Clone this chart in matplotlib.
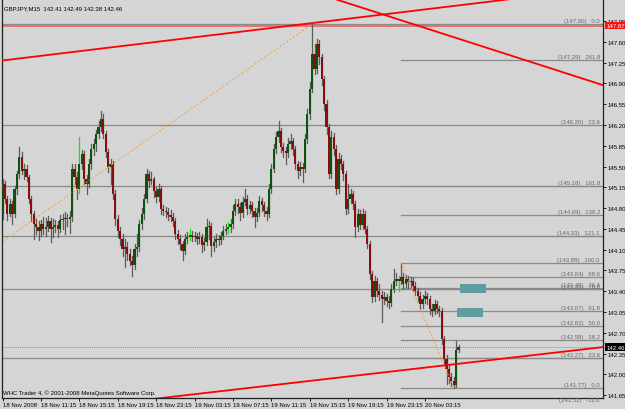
import matplotlib
matplotlib.use("Agg")
import matplotlib.pyplot as plt
from matplotlib.patches import Rectangle
import numpy as np

# GBPJPY M15 candles (bar index 0 = 18 Nov 07:15)
opens = [144.70, 145.21, 144.95, 144.70, 144.87, 144.70, 145.12, 145.37, 145.66, 145.42,
         145.46, 145.32, 144.95, 144.70, 144.53, 144.48, 144.41, 144.53, 144.45, 144.48,
         144.58, 144.45, 144.48, 144.52, 144.45, 144.60, 144.62, 144.63, 144.62, 144.65,
         145.46, 145.32, 145.12, 145.54, 145.71, 145.29, 145.21, 145.54, 145.80, 145.88,
         146.05, 146.17, 146.30, 146.05, 145.74, 145.49, 145.54, 145.04, 144.62, 144.41,
         144.28, 144.11, 144.15, 144.03, 143.91, 143.84, 144.11, 144.15, 144.53, 144.70,
         144.95, 145.37, 145.26, 145.29, 145.09, 144.99, 145.12, 144.79, 144.75, 144.73,
         144.68, 144.65, 144.58, 144.36, 144.28, 144.20, 144.08, 144.28, 144.31, 144.35,
         144.31, 144.33, 144.28, 144.31, 144.18, 144.23, 144.48, 144.50, 144.16, 144.23,
         144.28, 144.26, 144.33, 144.41, 144.45, 144.48, 144.53, 144.75, 144.87, 144.82,
         144.72, 144.90, 144.95, 144.79, 144.85, 144.75, 144.65, 144.72, 144.92, 144.85,
         144.75, 144.70, 145.12, 145.46, 145.80, 146.00, 146.10, 145.83, 145.76, 145.73,
         145.88, 145.93, 145.80, 145.54, 145.42, 145.49, 145.46, 145.96, 146.38, 146.81,
         147.39, 147.14, 147.56, 147.34, 146.97, 146.55, 146.17, 145.37, 146.00, 145.80,
         145.12, 145.63, 145.54, 145.37, 144.79, 144.95, 145.04, 144.87, 144.48, 144.70,
         144.52, 144.70, 144.45, 144.20, 143.69, 143.30, 143.57, 143.40, 143.34, 143.27,
         143.30, 143.24, 143.20, 143.44, 143.57, 143.61, 143.57, 143.64, 143.52, 143.61,
         143.56, 143.57, 143.49, 143.40, 143.32, 143.19, 143.27, 143.32, 143.27, 143.10,
         143.07, 143.19, 143.10, 143.07, 142.60, 142.26, 142.09, 141.96, 141.89, 141.82,
         142.41]
closes = [145.21, 144.95, 144.70, 144.87, 144.70, 145.12, 145.37, 145.66, 145.42, 145.46,
          145.32, 144.95, 144.70, 144.53, 144.48, 144.41, 144.53, 144.45, 144.48, 144.58,
          144.45, 144.48, 144.52, 144.45, 144.60, 144.62, 144.63, 144.62, 144.65, 145.46,
          145.32, 145.12, 145.54, 145.71, 145.29, 145.21, 145.54, 145.80, 145.88, 146.05,
          146.17, 146.30, 146.05, 145.74, 145.49, 145.54, 145.04, 144.62, 144.41, 144.28,
          144.11, 144.15, 144.03, 143.91, 143.84, 144.11, 144.15, 144.53, 144.70, 144.95,
          145.37, 145.26, 145.29, 145.09, 144.99, 145.12, 144.79, 144.75, 144.73, 144.68,
          144.65, 144.58, 144.36, 144.28, 144.20, 144.08, 144.28, 144.31, 144.35, 144.31,
          144.33, 144.28, 144.31, 144.18, 144.23, 144.48, 144.50, 144.16, 144.23, 144.28,
          144.26, 144.33, 144.41, 144.45, 144.48, 144.53, 144.75, 144.87, 144.82, 144.72,
          144.90, 144.95, 144.79, 144.85, 144.75, 144.65, 144.72, 144.92, 144.85, 144.75,
          144.70, 145.12, 145.46, 145.80, 146.00, 146.10, 145.83, 145.76, 145.73, 145.88,
          145.93, 145.80, 145.54, 145.42, 145.49, 145.46, 145.96, 146.38, 146.81, 147.39,
          147.14, 147.56, 147.34, 146.97, 146.55, 146.17, 145.37, 146.00, 145.80, 145.12,
          145.63, 145.54, 145.37, 144.79, 144.95, 145.04, 144.87, 144.48, 144.70, 144.52,
          144.70, 144.45, 144.20, 143.69, 143.30, 143.57, 143.40, 143.34, 143.27, 143.30,
          143.24, 143.20, 143.44, 143.57, 143.61, 143.57, 143.64, 143.52, 143.61, 143.56,
          143.57, 143.49, 143.40, 143.32, 143.19, 143.27, 143.32, 143.27, 143.10, 143.07,
          143.19, 143.10, 143.07, 142.60, 142.26, 142.09, 141.96, 141.89, 141.82, 142.41,
          142.46]
highs = [145.29, 145.26, 145.00, 144.95, 144.92, 145.18, 145.42, 145.83, 145.74, 145.55,
         145.52, 145.36, 145.00, 144.75, 144.62, 144.58, 144.60, 144.65, 144.63, 144.67,
         144.63, 144.62, 144.60, 144.58, 144.68, 144.70, 144.73, 144.70, 144.75, 145.55,
         145.55, 145.40, 146.00, 145.78, 145.76, 145.35, 145.63, 145.88, 145.96, 146.12,
         146.27, 146.43, 146.38, 146.10, 145.80, 145.63, 145.60, 145.10, 144.68, 144.48,
         144.36, 144.28, 144.23, 144.11, 144.00, 144.20, 144.36, 144.60, 144.80, 145.04,
         145.46, 145.42, 145.41, 145.32, 145.15, 145.20, 145.18, 144.85, 144.82, 144.80,
         144.76, 144.72, 144.63, 144.43, 144.35, 144.25, 144.36, 144.40, 144.45, 144.42,
         144.40, 144.38, 144.40, 144.36, 144.30, 144.62, 144.58, 144.55, 144.31, 144.36,
         144.35, 144.40, 144.50, 144.53, 144.56, 144.62, 144.85, 144.95, 144.95, 144.88,
         144.99, 145.12, 145.02, 144.92, 144.90, 144.80, 144.80, 145.00, 144.97, 144.90,
         144.82, 145.20, 145.55, 145.88, 146.08, 146.27, 146.15, 145.90, 145.83, 145.98,
         146.05, 145.98, 145.85, 145.60, 145.58, 145.56, 146.04, 146.47, 146.92, 147.90,
         147.56, 147.65, 147.63, 147.40, 147.02, 146.62, 146.22, 146.10, 146.06, 145.86,
         145.73, 145.70, 145.60, 145.42, 145.20, 145.12, 145.09, 144.92, 144.78, 144.76,
         144.78, 144.75, 144.50, 144.25, 143.74, 143.65, 143.63, 143.52, 143.40, 143.38,
         143.35, 143.32, 143.52, 143.78, 143.70, 143.66, 143.86, 143.70, 143.68, 143.66,
         143.64, 143.62, 143.55, 143.45, 143.38, 143.33, 143.40, 143.37, 143.32, 143.18,
         143.25, 143.24, 143.16, 143.12, 142.65, 142.32, 142.16, 142.02, 141.95, 142.56,
         142.49]
lows = [144.62, 144.88, 144.60, 144.66, 144.53, 144.65, 145.04, 145.30, 145.37, 145.29,
        145.26, 144.88, 144.58, 144.28, 144.36, 144.26, 144.33, 144.36, 144.33, 144.41,
        144.23, 144.31, 144.40, 144.31, 144.40, 144.45, 144.36, 144.50, 144.38, 144.58,
        145.20, 144.95, 145.05, 145.45, 145.20, 145.04, 145.15, 145.46, 145.70, 145.76,
        145.98, 146.10, 145.98, 145.66, 145.40, 145.21, 144.95, 144.52, 144.31, 144.18,
        144.00, 143.81, 143.93, 143.84, 143.66, 143.78, 144.00, 144.08, 144.45, 144.62,
        144.90, 145.15, 145.20, 144.99, 144.90, 144.92, 144.70, 144.68, 144.65, 144.60,
        144.58, 144.50, 144.28, 144.20, 144.11, 143.93, 144.03, 144.22, 144.26, 144.24,
        144.25, 144.20, 144.22, 144.06, 144.10, 144.18, 144.28, 144.00, 144.08, 144.15,
        144.18, 144.20, 144.28, 144.36, 144.38, 144.40, 144.46, 144.68, 144.72, 144.60,
        144.65, 144.85, 144.70, 144.72, 144.65, 144.48, 144.58, 144.66, 144.75, 144.66,
        144.60, 144.65, 145.05, 145.40, 145.72, 145.92, 145.74, 145.66, 145.54, 145.66,
        145.80, 145.70, 145.46, 145.30, 145.35, 145.24, 145.40, 145.90, 146.30, 146.75,
        147.05, 147.08, 147.22, 146.88, 146.45, 146.05, 145.30, 145.30, 145.70, 145.04,
        145.06, 145.45, 145.28, 144.70, 144.72, 144.88, 144.78, 144.31, 144.42, 144.45,
        144.45, 144.38, 144.12, 143.60, 143.22, 143.24, 143.32, 143.26, 142.88, 143.18,
        143.15, 143.12, 143.15, 143.38, 143.50, 143.40, 143.52, 143.44, 143.47, 143.46,
        143.48, 143.41, 143.33, 143.24, 143.10, 143.12, 143.20, 143.18, 143.02, 142.99,
        143.01, 143.03, 142.98, 142.52, 142.18, 141.84, 141.85, 141.80, 141.77, 141.78,
        142.38]
lime_bars = [32, 78, 94, 165]

price_ticks = [147.95, 147.60, 147.25, 146.90, 146.55, 146.20, 145.85, 145.50, 145.15,
               144.80, 144.45, 144.10, 143.75, 143.40, 143.05, 142.70, 142.35, 142.00, 141.65]
time_pos = [0, 16, 32, 48, 64, 80, 96, 112, 128, 144, 160, 176]
time_labels = ["18 Nov 2008", "18 Nov 11:15", "18 Nov 15:15", "18 Nov 19:15", "18 Nov 23:15",
               "19 Nov 03:15", "19 Nov 07:15", "19 Nov 11:15", "19 Nov 15:15", "19 Nov 19:15",
               "19 Nov 23:15", "20 Nov 03:15"]

# horizontal levels across the whole chart
full_levels = [147.90, 146.20, 145.18, 144.33, 143.43, 142.27]
# fibo expansion levels (start at bar 166) with their captions
fib_levels = [147.29, 145.18, 144.69, 144.33, 143.88, 143.64, 143.45, 143.43, 143.07,
              142.82, 142.58, 142.27, 141.77, 141.52]
fib_names = ["261.8", "161.8", "138.2", "121.1", "100.0", "88.6", "76.4", "78.6", "61.8",
             "50.0", "38.2", "23.6", "0.0", "-11.8"]

bid = 142.46
alert = 147.87

BG = "#d5d5d5"
FS = 4.3
plt.rcParams["font.family"] = ["Liberation Sans", "DejaVu Sans"]

fig = plt.figure(figsize=(6.25, 4.10), dpi=100, facecolor=BG)
ax = fig.add_axes([2 / 625, 11 / 410, 601 / 625, 399 / 410], facecolor=BG)
ax.set_xlim(-0.21, 250.2)
ax.set_ylim(141.603, 148.32)

# levels
for lv in full_levels:
    ax.axhline(lv, color="#8a8a8a", lw=0.9, zorder=1)
for lv in fib_levels:
    ax.plot([166, 260], [lv, lv], color="#8a8a8a", lw=0.9, zorder=1)
ax.text(248.9, 147.90 + 0.015, "(147.90)   0.0", ha="right", va="bottom", fontsize=FS, color="#6a6a6a")
ax.text(248.9, 146.20 + 0.015, "(146.20)   23.6", ha="right", va="bottom", fontsize=FS, color="#6a6a6a")
for lv, nm in zip(fib_levels, fib_names):
    ax.text(248.9, lv + 0.015, "(%.2f)   %s" % (lv, nm), ha="right", va="bottom",
            fontsize=FS, color="#6a6a6a")

ax.axhline(alert, color="#f05050", lw=1.3, alpha=0.8, zorder=2)
ax.axhline(bid, color="#7d9ab4", lw=0.7, ls=(0, (1, 1)), zorder=2)

# candles
x = np.arange(len(closes))
for i in x:
    o, h, l, c = opens[i], highs[i], lows[i], closes[i]
    wick = "#00ee00" if i in lime_bars else "#5c5c5c"
    ax.plot([i, i], [l, h], color=wick, lw=0.9, zorder=3)
    col = "#0d520d" if c >= o else "#8a0c0c"
    bot = min(o, c)
    hgt = max(abs(c - o), 0.015)
    ax.add_patch(Rectangle((i - 0.45, bot), 0.9, hgt, facecolor=col, edgecolor="none", zorder=4))

# trend lines
ax.plot([-1, 212], [147.28, 148.32], color="#ff0000", lw=1.3, zorder=5)
ax.plot([138.5, 250.2], [148.32, 146.87], color="#ff0000", lw=1.3, zorder=5)
ax.plot([63.5, 250.2], [141.59, 142.46], color="#ff0000", lw=1.3, zorder=5)
ax.plot([-1, 129], [144.21, 147.90], color="#f5a040", lw=0.8, ls=(0, (1.5, 2)), zorder=5)
ax.plot([166, 188], [143.88, 141.77], color="#f5a040", lw=0.8, ls=(0, (1.5, 2)), zorder=5)

# rectangles
ax.add_patch(Rectangle((190.6, 143.37), 10.9, 0.15, facecolor="#5f9ea0", edgecolor="none", zorder=5))
ax.add_patch(Rectangle((189.4, 142.97), 10.8, 0.15, facecolor="#5f9ea0", edgecolor="none", zorder=5))

# axes
ax.spines["top"].set_visible(False)
for s in ["left", "right", "bottom"]:
    ax.spines[s].set_color("#202020")
    ax.spines[s].set_linewidth(0.9)
ax.yaxis.tick_right()
ax.set_yticks(price_ticks)
ax.set_yticklabels(["%.2f" % p for p in price_ticks], fontsize=FS, color="black")
ax.tick_params(axis="y", length=2, width=0.6, pad=1.5)
ax.set_xticks(time_pos)
ax.set_xticklabels(time_labels, fontsize=FS, color="black")
ax.tick_params(axis="x", length=2, width=0.6, pad=1)
for lbl in ax.get_xticklabels():
    lbl.set_ha("left")

# price tags
ax.annotate("%.2f" % alert, xy=(1.006, alert), xycoords=("axes fraction", "data"), va="center",
            fontsize=FS, color="white", bbox=dict(boxstyle="square,pad=0.2", fc="#ff1010", ec="none"))
ax.annotate("%.2f" % bid, xy=(1.006, bid), xycoords=("axes fraction", "data"), va="center",
            fontsize=FS, color="white", bbox=dict(boxstyle="square,pad=0.2", fc="black", ec="none"))

ax.text(0.004, 0.985, "GBPJPY,M15  142.41 142.49 142.38 142.46", transform=ax.transAxes,
        fontsize=FS, va="top", ha="left")
ax.text(0.002, 0.008, "WHC Trader 4, \u00a9 2001-2008 MetaQuotes Software Corp.", transform=ax.transAxes,
        fontsize=FS, va="bottom", ha="left")

fig.savefig("out.png", dpi=100, facecolor=BG)
